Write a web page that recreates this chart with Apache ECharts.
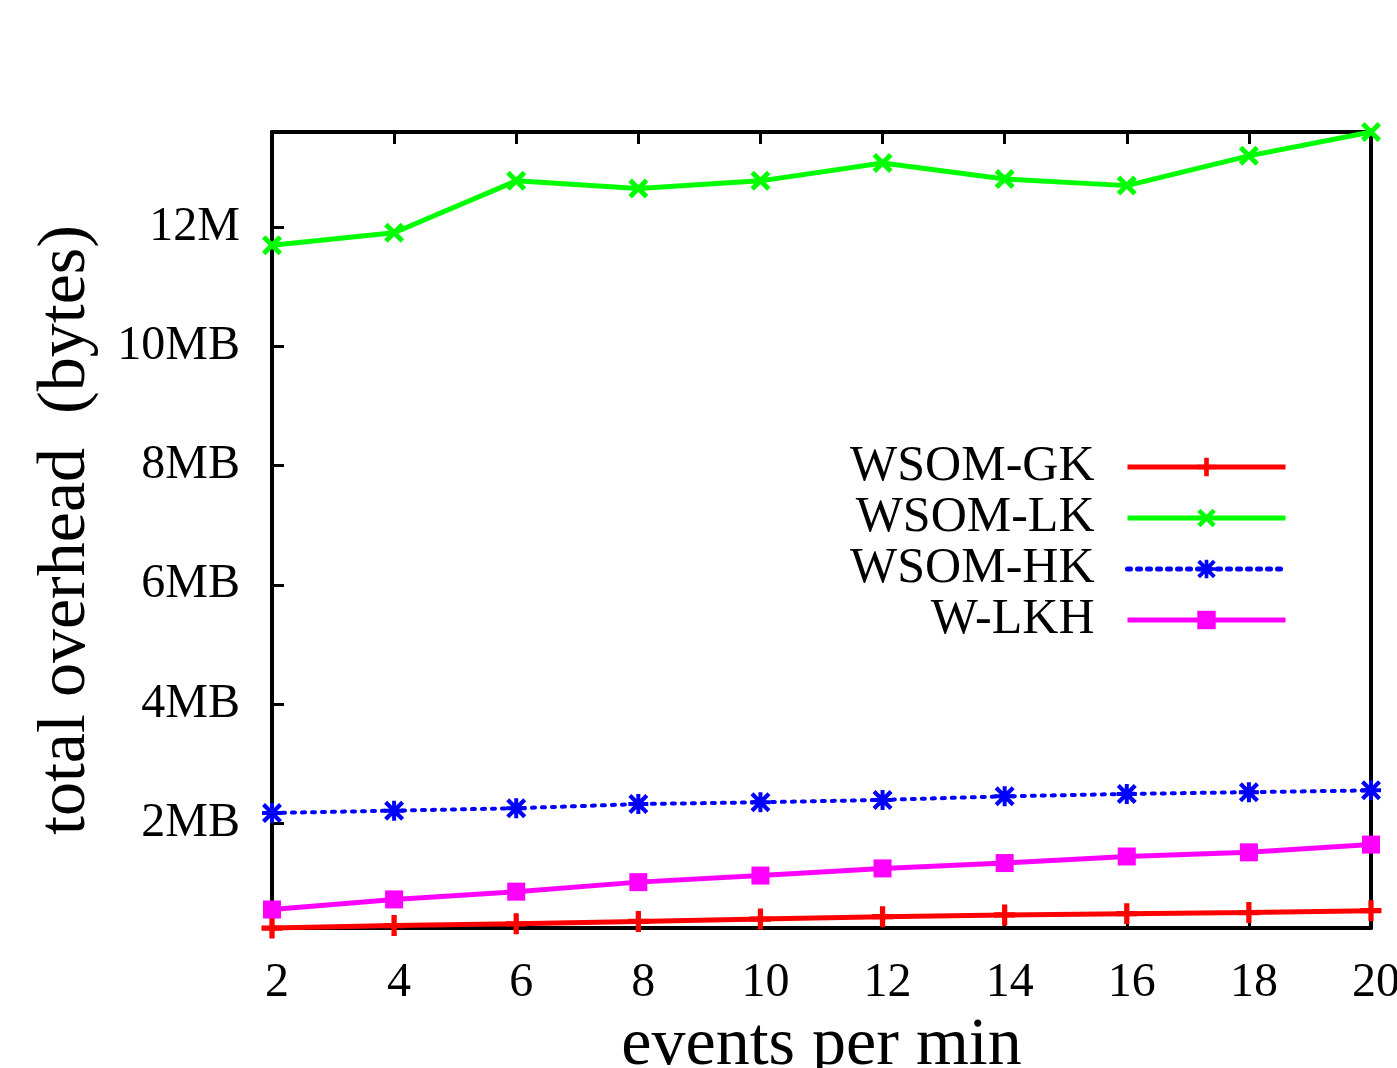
<!DOCTYPE html>
<html><head><meta charset="utf-8">
<script src="https://cdn.jsdelivr.net/npm/echarts@6/dist/echarts.min.js"></script>
<style>html,body{margin:0;padding:0;background:#fff}#c{width:1397px;height:1068px}</style>
</head><body><div id="c"></div>
<script>
const xValues = [2,4,6,8,10,12,14,16,18,20];
const wsomGK = [0.24,0.28,0.31,0.35,0.39,0.43,0.46,0.48,0.50,0.53];
const wsomLK = [11.70,11.91,12.78,12.65,12.78,13.08,12.81,12.70,13.20,13.60];
const wsomHK = [2.17,2.21,2.25,2.32,2.35,2.39,2.45,2.49,2.52,2.55];
const wLKH = [0.55,0.72,0.85,1.01,1.12,1.24,1.33,1.44,1.51,1.64];
const yTickValues = [2,4,6,8,10,12];
const yTickLabels = ['2MB','4MB','6MB','8MB','10MB','12M'];
const seriesNames = ['WSOM-GK','WSOM-LK','WSOM-HK','W-LKH'];

const FONT = 'Liberation Serif';
const plusPath = 'path://M7.5,0 H12.5 V7.5 H20 V12.5 H12.5 V20 H7.5 V12.5 H0 V7.5 H7.5 Z';
const crossPath = 'path://M0,3.5 L3.5,0 L10,6.5 L16.5,0 L20,3.5 L13.5,10 L20,16.5 L16.5,20 L10,13.5 L3.5,20 L0,16.5 L6.5,10 Z';
const starPath = 'path://M8,0 H12 V8 H20 V12 H12 V20 H8 V12 H0 V8 H8 Z M0,3 L3,0 L10,7 L17,0 L20,3 L13,10 L20,17 L17,20 L10,13 L3,20 L0,17 L7,10 Z';

function pairs(arr){ return xValues.map((x,i)=>[x,arr[i]]); }

const axisLineStyle = {color:'#000', width:4};
const tickStyle = {color:'#000', width:3};

const chart = echarts.init(document.getElementById('c'), null, {renderer:'canvas'});
chart.setOption({
  backgroundColor:'#fff',
  animation:false,
  grid:{left:272, right:26, top:132, bottom:140, containLabel:false, outerBoundsMode:'none'},
  legend:{
    orient:'vertical', align:'right', right:104, top:437,
    itemWidth:158, itemHeight:23, itemGap:1,
    lineStyle:{width:5},
    textStyle:{fontFamily:FONT, fontSize:50, color:'#000', lineHeight:45, padding:[0,28,0,0]},
    data:seriesNames
  },
  xAxis:[{
    type:'value', min:2, max:20, interval:2,
    name:'events per min', nameLocation:'middle', nameGap:82,
    nameTextStyle:{fontFamily:FONT, fontSize:68, color:'#000'},
    axisLine:{show:true, lineStyle:axisLineStyle},
    axisTick:{show:true, inside:true, length:12, lineStyle:tickStyle},
    axisLabel:{fontFamily:FONT, fontSize:48, color:'#000', margin:31, padding:[0,0,0,10], showMinLabel:true, showMaxLabel:true},
    splitLine:{show:false}
  },{
    type:'value', position:'top', min:2, max:20, interval:2,
    axisLine:{show:true, lineStyle:axisLineStyle},
    axisTick:{show:true, inside:true, length:12, lineStyle:tickStyle},
    axisLabel:{show:false}, splitLine:{show:false}
  }],
  yAxis:[{
    type:'value', min:'dataMin', max:'dataMax',
    name:'total overhead  (bytes)', nameLocation:'middle', nameGap:172,
    nameTextStyle:{fontFamily:FONT, fontSize:68, color:'#000'},
    axisLine:{show:true, lineStyle:axisLineStyle},
    axisTick:{show:true, inside:true, length:12, lineStyle:tickStyle, customValues:yTickValues},
    axisLabel:{fontFamily:FONT, fontSize:48, color:'#000', margin:32, customValues:yTickValues,
      formatter:function(v){ const i = yTickValues.indexOf(v); return i>=0 ? yTickLabels[i] : ''; }},
    splitLine:{show:false}
  },{
    type:'value', position:'right', min:'dataMin', max:'dataMax',
    axisLine:{show:true, lineStyle:axisLineStyle},
    axisTick:{show:true, inside:true, length:12, lineStyle:tickStyle, customValues:yTickValues},
    axisLabel:{show:false}, splitLine:{show:false}
  }],
  series:[
    {name:seriesNames[0], type:'line', data:pairs(wsomGK), clip:false,
     symbol:plusPath, symbolSize:21, color:'#ff0000',
     itemStyle:{color:'#ff0000'}, lineStyle:{color:'#ff0000', width:5}},
    {name:seriesNames[1], type:'line', data:pairs(wsomLK), clip:false,
     symbol:crossPath, symbolSize:20, color:'#00ff00',
     itemStyle:{color:'#00ff00'}, lineStyle:{color:'#00ff00', width:5}},
    {name:seriesNames[2], type:'line', data:pairs(wsomHK), clip:false,
     symbol:starPath, symbolSize:20, color:'#0000ff',
     itemStyle:{color:'#0000ff'}, lineStyle:{color:'#0000ff', width:4, type:[3,7], cap:'round'}},
    {name:seriesNames[3], type:'line', data:pairs(wLKH), clip:false,
     symbol:'rect', symbolSize:18, color:'#ff00ff',
     itemStyle:{color:'#ff00ff'}, lineStyle:{color:'#ff00ff', width:5}}
  ]
});
</script></body></html>
